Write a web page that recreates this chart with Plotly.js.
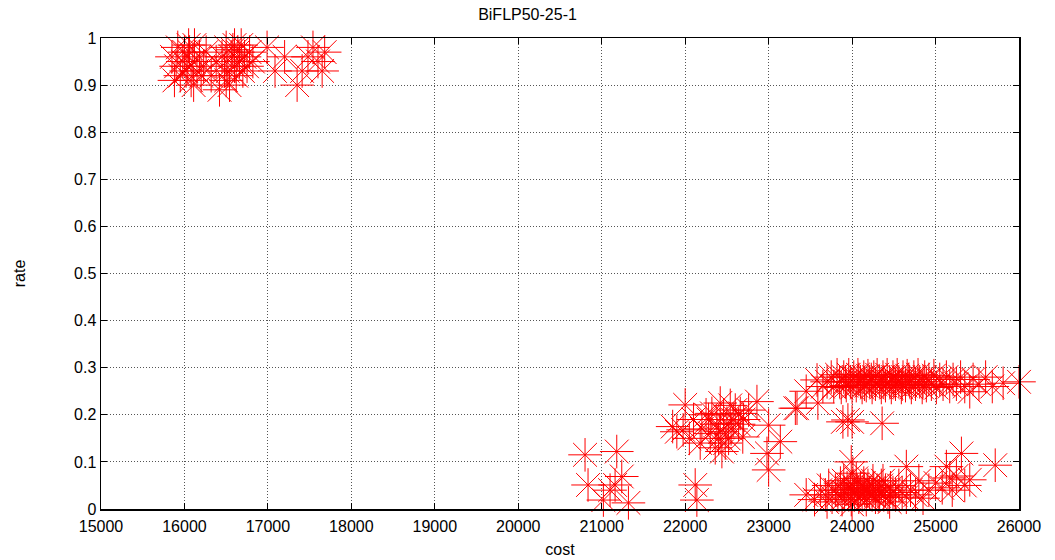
<!DOCTYPE html>
<html>
<head>
<meta charset="utf-8">
<script src="https://cdn.plot.ly/plotly-3.0.1.min.js"></script>
<style>html,body{margin:0;padding:0;background:#fff;}#chart{width:1055px;height:560px;}</style>
</head>
<body>
<div id="chart"></div>
<script>
// Cluster near cost 16000-17700, rate ~0.9-1
const costA = [15850,15900,15920,15950,15980,16000,16020,16040,16060,16080,16100,16120,16150,16180,16200,16230,16260,15880,16050,16110,
  16320,16380,16420,
  16450,16480,16500,16520,16540,16560,16580,16600,16620,16640,16660,16680,16700,16720,16750,16780,16820,16500,16600,
  16990,17085,17200,17350,17410,17480,17540,17600,17650,17680];
const rateA = [0.96,0.94,0.98,0.92,0.95,0.97,0.93,0.94,0.97,0.91,0.95,0.985,0.93,0.96,0.92,0.94,0.97,0.91,0.985,0.90,
  0.92,0.95,0.89,
  0.96,0.93,0.98,0.93,0.90,0.96,0.975,0.94,0.92,0.97,0.95,0.985,0.93,0.96,0.94,0.97,0.95,0.91,0.985,
  0.98,0.93,0.96,0.90,0.93,0.96,0.98,0.95,0.93,0.97];

// Cluster near cost 20800-23300, rate ~0-0.23
const costB = [20800,21180,20836,21240,21160,21020,21320,21100,
  22120,22140,
  22000,21900,21975,21850,22050,22100,22200,22250,22320,22420,22500,22420,22360,22440,22575,22690,22660,22860,23000,23140,22980,23000,23320,
  22300,22380,22460,22520,22550,22600,22640,22480,22280,22700,22760,22400,22540,22180];
const rateB = [0.115,0.122,0.051,0.069,0.051,0.019,0.013,0.04,
  0.051,0.019,
  0.221,0.164,0.168,0.175,0.15,0.19,0.17,0.2,0.203,0.225,0.182,0.164,0.13,0.122,0.189,0.153,0.203,0.228,0.178,0.143,0.118,0.083,0.214,
  0.16,0.18,0.2,0.15,0.17,0.21,0.18,0.14,0.19,0.19,0.21,0.15,0.22,0.14];

// Band near rate ~0.27, cost 23600-26000
const costC = [23580,23450,23650,23700,23750,23780,23820,23850,23870,23900,23930,23960,23980,24000,24020,24050,24070,24100,24120,24140,24170,24190,24210,24240,24260,24280,24300,24330,24350,24370,24400,24420,24450,24470,24490,24520,24540,24560,24590,24610,24640,24660,24690,24710,24740,24760,24790,24810,24840,24870,24890,24920,24950,24980,25010,25050,25090,25130,25170,25210,25250,25300,25350,25410,25450,25520,25600,25680,25810,26000,24080,24230,24380,24500,24680,24850,24150,23920,24600];
const rateC = [0.274,0.25,0.26,0.27,0.28,0.26,0.285,0.27,0.258,0.28,0.262,0.285,0.27,0.258,0.28,0.262,0.285,0.27,0.258,0.28,0.262,0.283,0.27,0.258,0.28,0.265,0.285,0.27,0.258,0.28,0.262,0.285,0.27,0.258,0.28,0.265,0.285,0.27,0.258,0.28,0.262,0.283,0.27,0.258,0.28,0.265,0.285,0.27,0.258,0.28,0.262,0.275,0.265,0.283,0.258,0.275,0.265,0.28,0.26,0.275,0.265,0.28,0.26,0.249,0.275,0.265,0.28,0.26,0.267,0.27,0.275,0.275,0.27,0.27,0.275,0.27,0.265,0.27,0.265];

// Points near rate ~0.18-0.22
const costE = [23340,23590,23890,23950,24000,24360];
const rateE = [0.214,0.225,0.185,0.189,0.185,0.182];

// Cluster near rate ~0.03, cost 23400-25700
const costD = [23450,23550,23620,23680,23720,23760,23800,23830,23860,23880,23910,23940,23960,23990,24010,24030,24060,24080,24100,24120,24150,24170,24190,24210,24240,24260,24280,24300,24330,24350,24380,24400,24430,24460,24490,24520,24560,24600,24650,24700,24760,24850,24920,23900,24050,24250,24450,24000,23700,24140,24370,23980,24180,24320,24070,
  24010,24650,25310,25715,25170,25410,25000,25130,25080,25250,25350,24800,25200,23990];
const rateD = [0.03,0.02,0.04,0.03,0.05,0.025,0.04,0.03,0.055,0.02,0.035,0.045,0.03,0.02,0.05,0.035,0.04,0.025,0.045,0.03,0.04,0.02,0.05,0.035,0.03,0.045,0.025,0.04,0.035,0.05,0.03,0.04,0.025,0.045,0.035,0.03,0.05,0.035,0.025,0.04,0.03,0.023,0.04,0.06,0.065,0.06,0.015,0.01,0.015,0.055,0.06,0.042,0.038,0.028,0.032,
  0.076,0.09,0.118,0.093,0.066,0.062,0.055,0.09,0.045,0.07,0.05,0.06,0.04,0.1];

const xTicks = [15000,16000,17000,18000,19000,20000,21000,22000,23000,24000,25000,26000];
const yTicks = [0,0.1,0.2,0.3,0.4,0.5,0.6,0.7,0.8,0.9,1];

const cost = [].concat(costA, costB, costC, costE, costD);
const rate = [].concat(rateA, rateB, rateC, rateE, rateD);

const trace = {
  x: cost, y: rate, type: 'scatter', mode: 'markers', cliponaxis: false,
  marker: {symbol: 'asterisk-open', size: 28, color: '#ff0000', line: {color: '#ff0000', width: 1}},
  showlegend: false, hoverinfo: 'x+y'
};

const axisFont = {family: 'Liberation Sans, Arial, sans-serif', size: 16, color: '#000'};
const layout = {
  width: 1055, height: 560,
  margin: {l: 101, r: 36, t: 38, b: 51},
  paper_bgcolor: '#fff', plot_bgcolor: '#fff',
  title: {text: 'BiFLP50-25-1', x: 0.5, xanchor: 'center', y: 0.975, yanchor: 'middle',
    font: {family: 'Liberation Sans, Arial, sans-serif', size: 16, color: '#000'}},
  xaxis: {
    range: [15000, 26000], tickvals: xTicks, ticktext: xTicks.map(String),
    showline: true, linecolor: '#000', linewidth: 1.5, mirror: 'ticks',
    ticks: 'inside', ticklen: 6, tickcolor: '#000', tickwidth: 1,
    showgrid: true, gridcolor: '#555', griddash: '1px,2px', gridwidth: 1,
    zeroline: false, tickfont: axisFont, ticklabelstandoff: 2,
    title: {text: 'cost', font: axisFont, standoff: 10}
  },
  yaxis: {
    range: [0, 1], tickvals: yTicks, ticktext: yTicks.map(String),
    showline: true, linecolor: '#000', linewidth: 1.5, mirror: 'ticks',
    ticks: 'inside', ticklen: 6, tickcolor: '#000', tickwidth: 1,
    showgrid: true, gridcolor: '#555', griddash: '1px,2px', gridwidth: 1,
    zeroline: false, tickfont: axisFont,
    title: {text: 'rate', font: axisFont, standoff: 44}
  }
};

Plotly.newPlot('chart', [trace], layout, {displayModeBar: false, staticPlot: true});
</script>
</body>
</html>
